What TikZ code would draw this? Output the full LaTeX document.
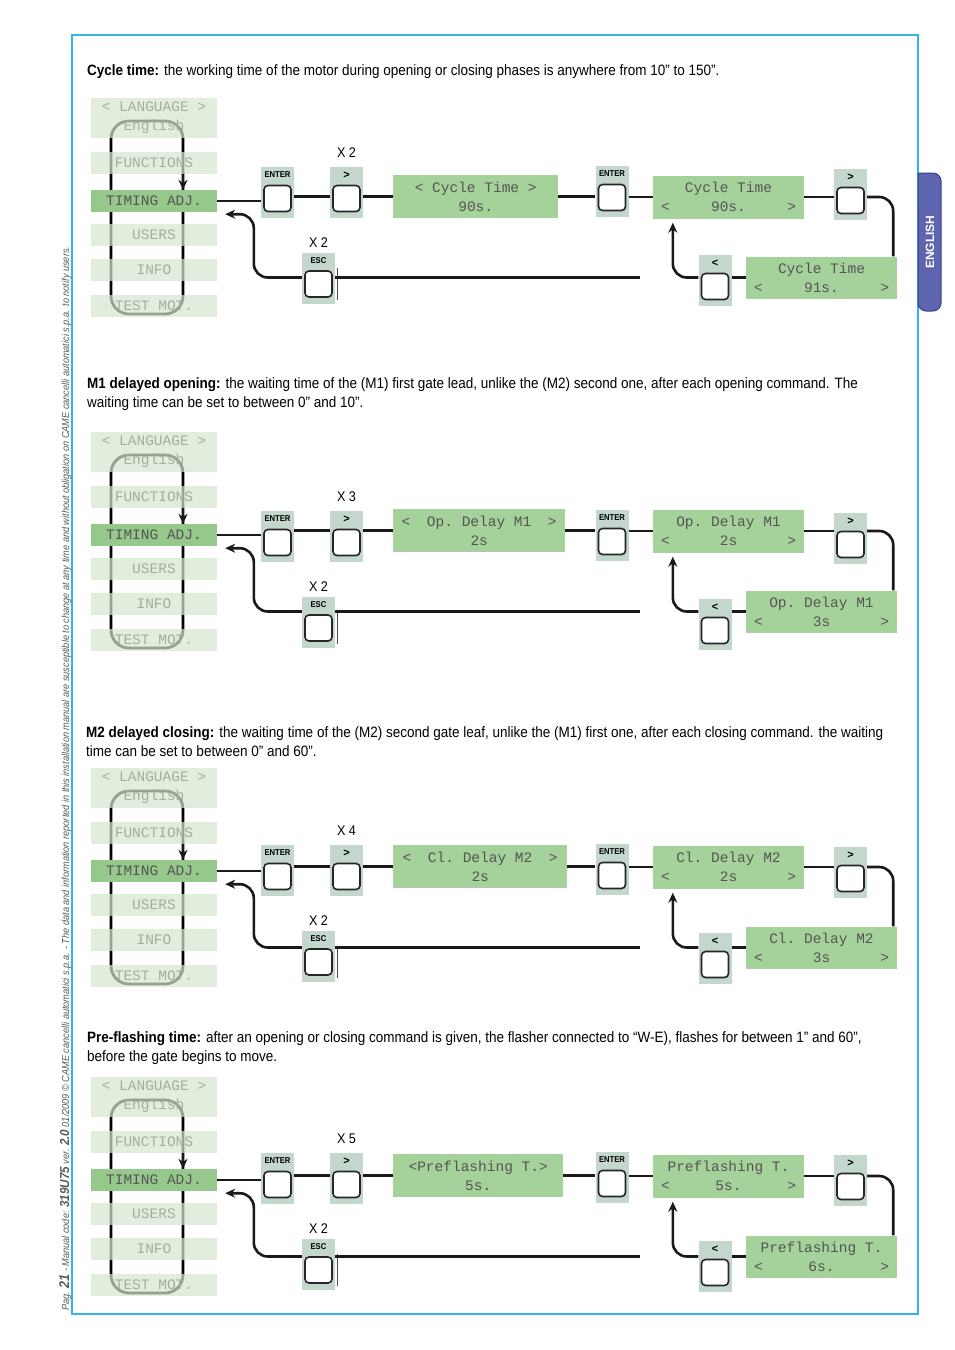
\documentclass[tikz,border=0pt]{standalone}
\usepackage{fontspec}
\setmainfont{Liberation Sans}
\newfontfamily\condfont[FakeStretch=0.9]{Liberation Sans}
\newfontfamily\lcdfont{Liberation Mono}
\usetikzlibrary{arrows.meta,calc}

\definecolor{framecyan}{HTML}{33B5E5}
\definecolor{tabblue}{HTML}{5F64AF}
\definecolor{tabedge}{HTML}{3A3E8C}
\definecolor{stripgreen}{HTML}{D5E7CE}
\definecolor{selgreen}{HTML}{96C88C}
\definecolor{lcdgreen}{HTML}{A5D29B}
\definecolor{keygray}{HTML}{C3D7CD}
\definecolor{lcdtext}{HTML}{555555}
\definecolor{dimtext}{HTML}{A3ADA0}

\tikzset{
  para/.style={anchor=base west, align=left, inner sep=0, font=\condfont\fontsize{15}{19}\selectfont},
  strip/.style={fill=stripgreen, fill opacity=0.7, text opacity=1, minimum width=126, minimum height=22, inner sep=0, align=center, text=dimtext, font=\lcdfont\frenchspacing\fontsize{14.5}{19}\selectfont},
  selstrip/.style={strip, fill=selgreen, fill opacity=1, text=lcdtext},
  lcd/.style={fill=lcdgreen, minimum height=43, inner sep=0, align=center, text=lcdtext, font=\lcdfont\frenchspacing\fontsize{14.5}{19}\selectfont},
  keybg/.style={fill=keygray, minimum width=33, minimum height=51, inner sep=0},
  keybox/.style={draw=black!85, line width=1.6, fill=white, rounded corners=4, minimum width=27, minimum height=26, inner sep=0},
  keylabel/.style={inner sep=0, font=\condfont\bfseries\fontsize{8.5}{9}\selectfont},
  arrowlabel/.style={inner sep=0, font=\bfseries\fontsize{11}{11}\selectfont},
  times/.style={inner sep=0, font=\condfont\fontsize{14}{14}\selectfont},
  wire/.style={line width=2.6, black!90},
  wireback/.style={wire, rounded corners=14, -{Stealth[length=10,width=9]}},
}

\begin{document}
\begin{tikzpicture}[x=1pt, y=-1pt]
  \useasboundingbox (0,0) rectangle (954,1350);
  %FRAME
  \draw[framecyan, line width=1.5] (72,35) rectangle (918,1314);
  \filldraw[fill=tabblue, draw=tabedge, line width=1, rounded corners=8] (918,173) -- (941,173) -- (941,311) -- (918,311) [sharp corners] -- cycle;
  \node[rotate=90, text=white, inner sep=0, font=\bfseries\fontsize{12}{12}\selectfont] (tab) at (930,242) {ENGLISH};
  \node[rotate=90, anchor=base west, inner sep=0, text=black!65, font=\condfont\itshape\fontsize{10.2}{12}\selectfont] (side) at (69,1311) {Pag. {\bfseries\fontsize{14}{14}\selectfont 21} - Manual code: {\bfseries\fontsize{13}{13}\selectfont 319U75} ver. {\bfseries\fontsize{13}{13}\selectfont 2.0} 01/2009 © CAME cancelli automatici s.p.a. - The data and information reported in this installation manual are susceptible to change at any time and without obligation on CAME cancelli automatici s.p.a. to notify users.};

  %TEXTS
  \node[para] (head1) at (87,75) {\textbf{Cycle time:} the working time of the motor during opening or closing phases is anywhere from 10” to 150”.};
  \node[para] (head2) at (87,407) {\textbf{M1 delayed opening:} the waiting time of the (M1) first gate lead, unlike the (M2) second one, after each opening command. The\\waiting time can be set to between 0” and 10”.};
  \node[para] (head3) at (86,756) {\textbf{M2 delayed closing:} the waiting time of the (M2) second gate leaf, unlike the (M1) first one, after each closing command. the waiting\\time can be set to between 0” and 60”.};
  \node[para] (head4) at (87,1061) {\textbf{Pre-flashing time:} after an opening or closing command is given, the flasher connected to “W-E), flashes for between 1” and 60”,\\before the gate begins to move.};

  %PANELS
  \foreach \s/\dy/\bdy/\n/\first/\ttl/\cur/\nxt/\rx in {
      1/0/0/2/{< Cycle Time >}/{Cycle Time}/{90s.}/{91s.}/558,
      2/334/10/3/{\makebox[155pt]{<\hfill Op. Delay M1\hfill>}}/{Op. Delay M1}/{2s}/{3s}/565,
      3/670/8/4/{\makebox[155pt]{<\hfill Cl. Delay M2\hfill>}}/{Cl. Delay M2}/{2s}/{3s}/567,
      4/979/7/5/{<Preflashing T.>}/{Preflashing T.}/{5s.}/{6s.}/563}{
  \begin{scope}[shift={(0,\dy)}]
    %MENU
    \draw[line width=2.8, rounded corners=18] (111,121) rectangle (183,314);
    \node[strip, minimum height=40] (lang\s) at (154,118) {< LANGUAGE >\\English};
    \node[strip] (func\s) at (154,163) {FUNCTIONS};
    \node[selstrip] (tim\s) at (154,201) {TIMING ADJ.};
    \node[strip] (user\s) at (154,235) {USERS};
    \node[strip] (info\s) at (154,270) {INFO};
    \node[strip] (test\s) at (154,306) {TEST MOT.};
    \draw[wire, -{Stealth[length=10,width=9]}] (183,175) -- (tim\s.north -| 183,0);

    %KEYS
    \node[keybg] (ent\s) at (277.5,{192.5+\bdy}) {};
    \node[keylabel] (entl\s) at ([yshift=-8]ent\s.north) {ENTER};
    \node[keybox] (entk\s) at ([yshift=-6]ent\s.center) {};
    \node[keybg] (gt\s) at (346.5,{192.5+\bdy}) {};
    \node[arrowlabel] (gtl\s) at ([yshift=-8]gt\s.north) {>};
    \node[keybox] (gtk\s) at ([yshift=-6]gt\s.center) {};
    \node[times] (gtx\s) at ([yshift=14]gt\s.north) {X \n};
    \node[keybg] (en2\s) at (612,{191.5+\bdy}) {};
    \node[keylabel] (en2l\s) at ([yshift=-8]en2\s.north) {ENTER};
    \node[keybox] (en2k\s) at ([yshift=-6]en2\s.center) {};
    \node[keybg] (gt2\s) at (850.5,{194.5+\bdy}) {};
    \node[arrowlabel] (gt2l\s) at ([yshift=-8]gt2\s.north) {>};
    \node[keybox] (gt2k\s) at ([yshift=-6]gt2\s.center) {};
    \node[keybg] (lt\s) at (715,{280.5+\bdy}) {};
    \node[arrowlabel] (ltl\s) at ([yshift=-8]lt\s.north) {<};
    \node[keybox] (ltk\s) at ([yshift=-6]lt\s.center) {};
    \node[keybg] (esc\s) at (318.5,{278+\bdy}) {};
    \node[keylabel] (escl\s) at ([yshift=-8]esc\s.north) {ESC};
    \node[keybox] (esck\s) at ([yshift=-6]esc\s.center) {};
    \node[times] (escx\s) at ([yshift=10]esc\s.north) {X 2};
    \draw[line width=1.5, black!70] ([xshift=2.5,yshift=-16]esc\s.north east) -- ([xshift=2.5,yshift=4]esc\s.south east);

    %DISPLAYS
    \node[lcd, anchor=west, minimum width={\rx-393}] (da\s) at (393,196.5) {\first\\\cur};
    \node[lcd, minimum width=151] (db\s) at (728.5,197) {\ttl\\\makebox[135pt]{<\hfill\cur\hfill>}};
    \node[lcd, minimum width=151, minimum height=42] (dc\s) at (821.5,277.5) {\ttl\\\makebox[135pt]{<\hfill\nxt\hfill>}};
    \coordinate (end\s) at (640,277.5);

    %LINES
    \draw[wire] (tim\s.east) -- (ent\s.west |- tim\s.east);
    \draw[wire] (ent\s.east |- da\s.west) -- (gt\s.west |- da\s.west);
    \draw[wire] (gt\s.east |- da\s.west) -- (da\s.west);
    \draw[wire] (da\s.east) -- (en2\s.west |- da\s.east);
    \draw[wire] (en2\s.east |- db\s.west) -- (db\s.west);
    \draw[wire] (db\s.east) -- (gt2\s.west |- db\s.east);
    \draw[wire, rounded corners=14] (gt2\s.east |- db\s.east) -| ([xshift=-4]dc\s.north east);
    \draw[wire] (dc\s.west) -- (lt\s.east |- dc\s.west);
    \draw[wireback] (lt\s.west |- dc\s.west) -| ([xshift=20,yshift=-4]db\s.south west);
    \draw[wire] (esc\s.east |- dc\s.west) -- (end\s);
    \draw[wireback] (esc\s.west |- dc\s.west) -- ++(-48,0) |- ([xshift=8,yshift=-2]tim\s.south east);
  \end{scope}
  }
\end{tikzpicture}
\end{document}
